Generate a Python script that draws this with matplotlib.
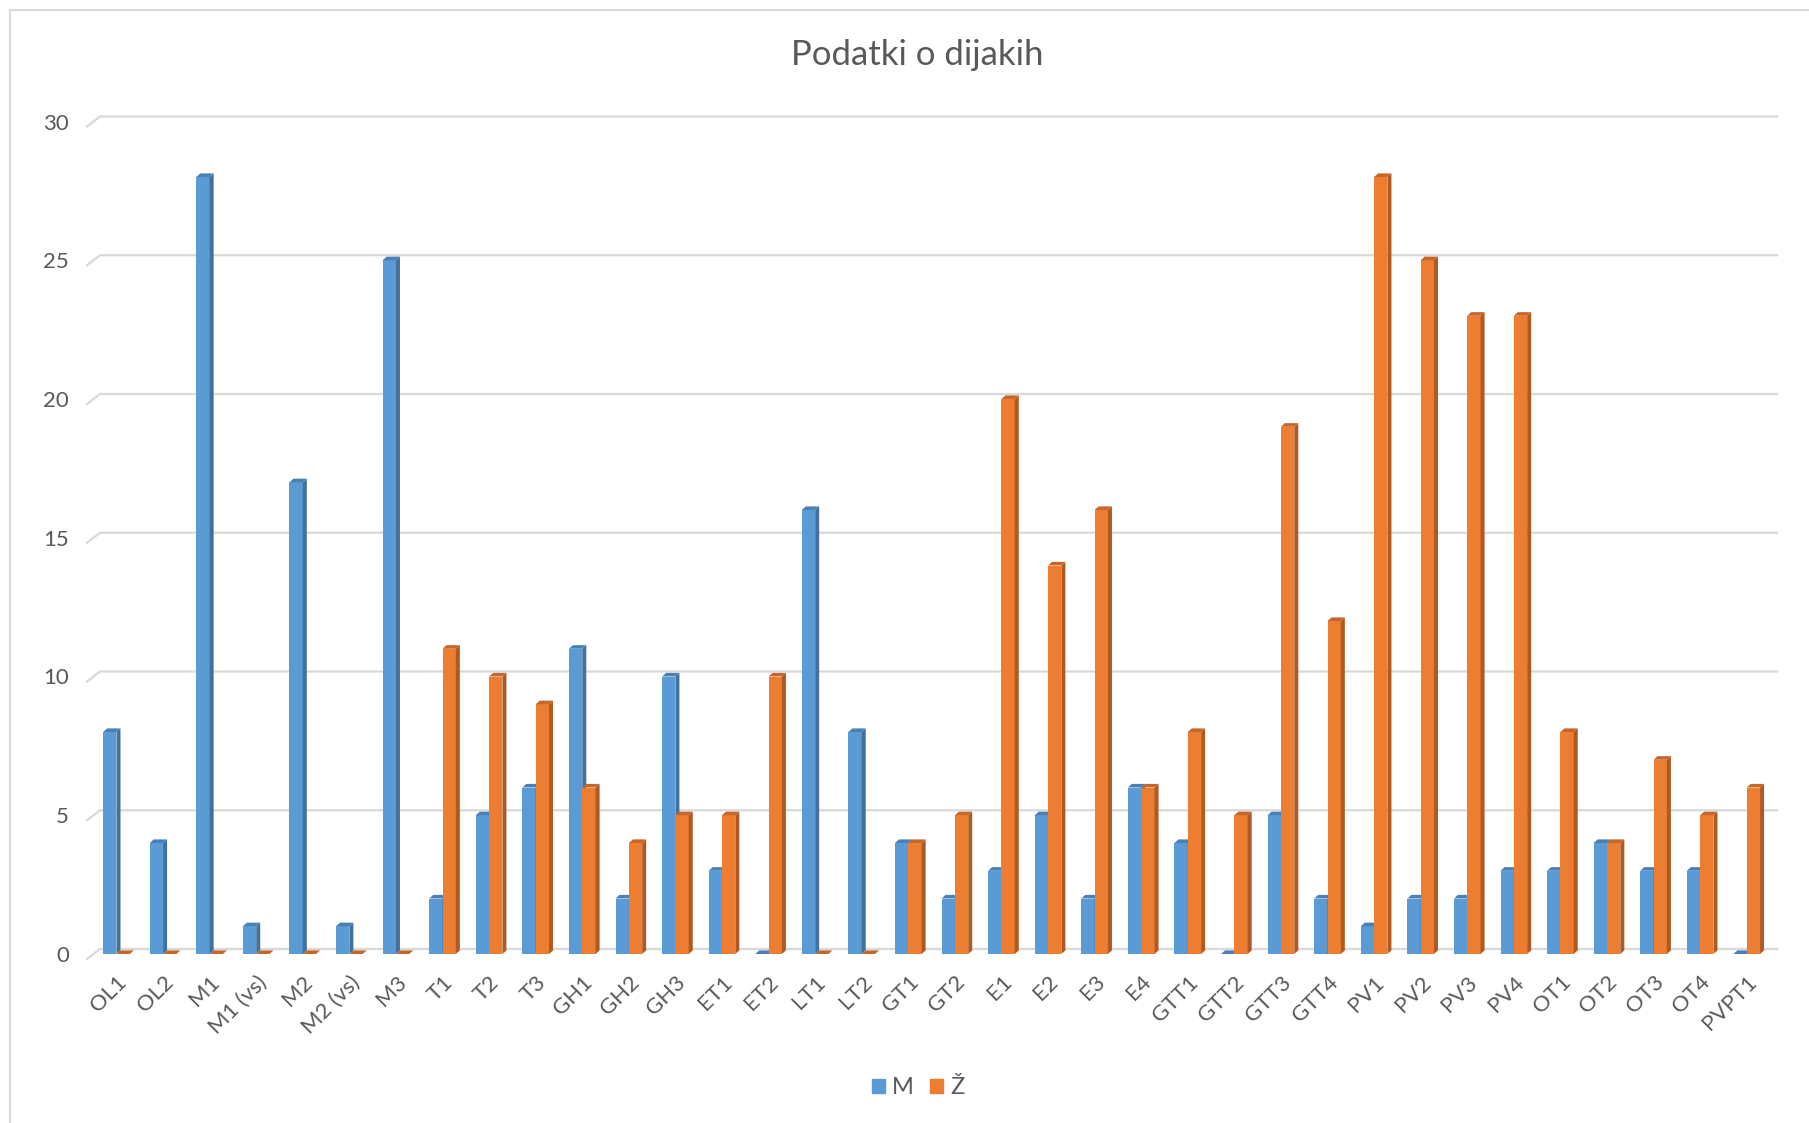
import matplotlib.pyplot as plt
from matplotlib.patches import Polygon
from matplotlib.lines import Line2D
import matplotlib.transforms as mtransforms
import numpy as np

plt.rcParams['font.family'] = ['Lato', 'DejaVu Sans']

razredi = ['OL1', 'OL2', 'M1', 'M1 (vs)', 'M2', 'M2 (vs)', 'M3', 'T1', 'T2', 'T3',
           'GH1', 'GH2', 'GH3', 'ET1', 'ET2', 'LT1', 'LT2', 'GT1', 'GT2', 'E1',
           'E2', 'E3', 'E4', 'GTT1', 'GTT2', 'GTT3', 'GTT4', 'PV1', 'PV2', 'PV3',
           'PV4', 'OT1', 'OT2', 'OT3', 'OT4', 'PVPT1']
moski = [8, 4, 28, 1, 17, 1, 25, 2, 5, 6,
         11, 2, 10, 3, 0, 16, 8, 4, 2, 3,
         5, 2, 6, 4, 0, 5, 2, 1, 2, 2,
         3, 3, 4, 3, 3, 0]
zenske = [0, 0, 0, 0, 0, 0, 0, 11, 10, 9,
          6, 4, 5, 5, 10, 0, 0, 4, 5, 20,
          14, 16, 6, 8, 5, 19, 12, 28, 25, 23,
          23, 8, 4, 7, 5, 6]
y_ticks = [0, 5, 10, 15, 20, 25, 30]

W, H = 1809, 1123
fig = plt.figure(figsize=(W / 100, H / 100), dpi=100)
ax = fig.add_axes([87 / W, 1 - 954 / H, 1690 / W, 832.5 / H])

x = np.arange(len(razredi))
w = 0.286     # front face width
dx = 0.086    # depth to the right
dy = 0.13     # depth upwards
txt = '#595959'

ax.set_xlim(-0.633, 35.65)
ax.set_ylim(0, 30)

# back wall gridlines with a small floor/wall diagonal on the left
for t in y_ticks:
    ax.plot([-0.633, -0.354, 35.65], [t - 0.18, t + 0.18, t + 0.18],
            color='#d9d9d9', lw=1.6, zorder=0, clip_on=False)


def bars3d(x0s, vals, front, side, top, z):
    ax.bar(x0s, vals, width=w, align='edge', color=front, zorder=z)
    for x0, v in zip(x0s, vals):
        ax.add_patch(Polygon([(x0 + w, 0), (x0 + w + dx, dy), (x0 + w + dx, v + dy), (x0 + w, v)],
                             closed=True, color=side, lw=0, zorder=z))
        ax.add_patch(Polygon([(x0, v), (x0 + w, v), (x0 + w + dx, v + dy), (x0 + dx, v + dy)],
                             closed=True, color=top, lw=0, zorder=z))


bars3d(x - w, moski, '#5B9BD5', '#41719C', '#4A80B5', 2)
bars3d(x, zenske, '#ED7D31', '#AE5A21', '#C7662A', 3)

ax.set_xticks(x)
ax.set_xticklabels(razredi, rotation=45, ha='right', rotation_mode='anchor',
                   fontsize=16, color=txt)
ax.set_yticks(y_ticks)
ax.set_yticklabels([str(t) for t in y_ticks], fontsize=16, color=txt)
# nudge y labels down a few pixels
shift = mtransforms.ScaledTranslation(0, -3 / 100, fig.dpi_scale_trans)
for lab in ax.get_yticklabels():
    lab.set_transform(lab.get_transform() + shift)
ax.tick_params(axis='both', length=0)
ax.tick_params(axis='x', pad=13)
ax.tick_params(axis='y', pad=13)
for s in ax.spines.values():
    s.set_visible(False)

fig.text(917 / W, 1 - 55 / H, 'Podatki o dijakih', ha='center', va='center',
         fontsize=25, color=txt)

handles = [plt.Rectangle((0, 0), 1, 1, color='#5B9BD5'),
           plt.Rectangle((0, 0), 1, 1, color='#ED7D31')]
fig.legend(handles, ['M', 'Ž'], loc='center', bbox_to_anchor=(918 / W, 1 - 1088 / H),
           ncol=2, frameon=False, fontsize=17, handlelength=0.55, handleheight=0.55,
           handletextpad=0.3, columnspacing=0.7, labelcolor=txt)

# chart area border (left and top edges visible)
fig.add_artist(Line2D([10 / W, 10 / W], [0, 1 - 10 / H], color='#d9d9d9', lw=1.5))
fig.add_artist(Line2D([10 / W, 1], [1 - 10 / H, 1 - 10 / H], color='#d9d9d9', lw=1.5))

fig.savefig('out.png', dpi=100, facecolor='white')
